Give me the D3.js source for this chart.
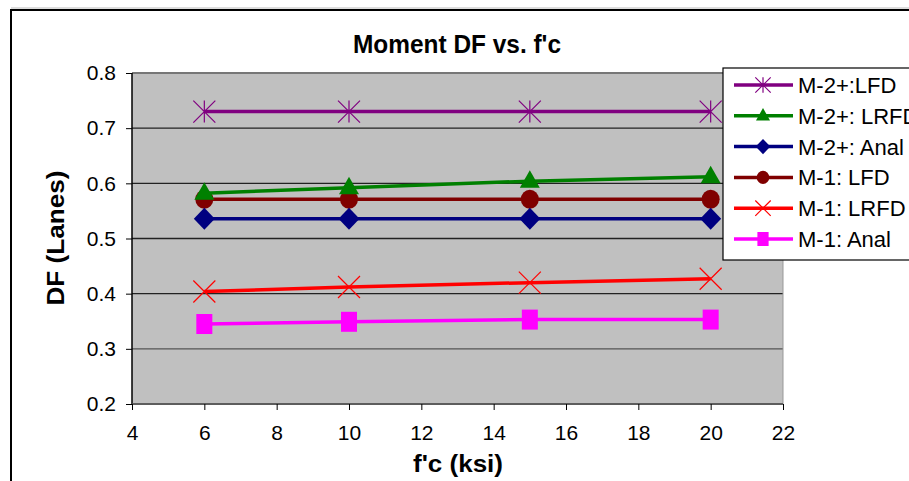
<!DOCTYPE html>
<html><head><meta charset="utf-8">
<script src="https://cdn.jsdelivr.net/npm/d3@7"></script>
<style>body{margin:0;background:#fff}svg{display:block}text{font-family:"Liberation Sans",Arial,sans-serif}</style>
</head><body>
<svg id="c" width="909" height="481"></svg>
<script>
const fc = [6, 10, 15, 20];
const seriesNames = ["M-2+:LFD", "M-2+: LRFD", "M-2+: Anal", "M-1: LFD", "M-1: LRFD", "M-1: Anal"];
const m2LFD  = [0.730, 0.730, 0.730, 0.730];
const m2LRFD = [0.582, 0.592, 0.604, 0.612];
const m2Anal = [0.536, 0.536, 0.536, 0.536];
const m1LFD  = [0.571, 0.571, 0.571, 0.571];
const m1LRFD = [0.404, 0.412, 0.420, 0.427];
const m1Anal = [0.345, 0.349, 0.353, 0.353];
const xTicks = [4, 6, 8, 10, 12, 14, 16, 18, 20, 22];
const yTicks = [0.2, 0.3, 0.4, 0.5, 0.6, 0.7, 0.8];

const series = [
  {name: seriesNames[0], vals: m2LFD,  color: "#800080", marker: "star"},
  {name: seriesNames[1], vals: m2LRFD, color: "#008000", marker: "tri"},
  {name: seriesNames[2], vals: m2Anal, color: "#000080", marker: "diamond"},
  {name: seriesNames[3], vals: m1LFD,  color: "#800000", marker: "circle"},
  {name: seriesNames[4], vals: m1LRFD, color: "#FF0000", marker: "x"},
  {name: seriesNames[5], vals: m1Anal, color: "#FF00FF", marker: "square"}
];

const svg = d3.select("#c");
const L = 132, R = 783, T = 73, B = 404;
const x = d3.scaleLinear().domain([4, 22]).range([L, R]);
const y = d3.scaleLinear().domain([0.2, 0.8]).range([B, T]);

// outer frame
svg.append("line").attr("x1", 11).attr("y1", 8).attr("x2", 909).attr("y2", 8).attr("stroke", "#bbb").attr("stroke-width", 1);
svg.append("path").attr("d", "M11,481V10H909").attr("fill", "none").attr("stroke", "#000").attr("stroke-width", 2);

// plot area
svg.append("rect").attr("x", L).attr("y", T).attr("width", R - L).attr("height", B - T).attr("fill", "#C0C0C0");
yTicks.forEach(v => {
  const edge = (v === 0.8 || v === 0.2);
  svg.append("line").attr("x1", L).attr("x2", R).attr("y1", y(v)).attr("y2", y(v))
    .attr("stroke", edge ? "#777" : (v === 0.3 ? "#555" : "#222")).attr("stroke-width", edge ? 2 : 1.3);
});
svg.append("line").attr("x1", R).attr("x2", R).attr("y1", T).attr("y2", B).attr("stroke", "#999").attr("stroke-width", 1);

// axes
const yAxis = d3.axisLeft(y).tickValues(yTicks).tickFormat(d3.format(".1f")).tickSize(6).tickPadding(10);
const gy = svg.append("g").attr("transform", `translate(${L},0)`).call(yAxis);
gy.select(".domain").attr("stroke", "#000").attr("stroke-width", 1.5).attr("d", `M0,${T}V${B + 1}`);
gy.selectAll("text").attr("font-size", 21).attr("fill", "#000").attr("font-family", "Liberation Sans, Arial, sans-serif");

const xAxis = d3.axisBottom(x).tickValues(xTicks).tickFormat(d3.format("d")).tickSize(6).tickPadding(15);
const gx = svg.append("g").attr("transform", `translate(0,${B})`).call(xAxis);
gx.select(".domain").attr("stroke", "#555").attr("stroke-width", 1.5).attr("d", `M${L},0H${R}`);
gx.selectAll("text").attr("font-size", 21).attr("fill", "#000").attr("font-family", "Liberation Sans, Arial, sans-serif");

// titles
svg.append("text").attr("x", 457).attr("y", 53).attr("text-anchor", "middle").attr("font-size", 26).attr("font-weight", "bold")
  .attr("textLength", 208).attr("lengthAdjust", "spacingAndGlyphs").text("Moment DF vs. f'c");
svg.append("text").attr("x", 458).attr("y", 472).attr("text-anchor", "middle").attr("font-size", 24).attr("font-weight", "bold")
  .attr("textLength", 90).attr("lengthAdjust", "spacingAndGlyphs").text("f'c (ksi)");
svg.append("text").attr("transform", "translate(64,238) rotate(-90)").attr("text-anchor", "middle").attr("font-size", 24).attr("font-weight", "bold")
  .attr("textLength", 135).attr("lengthAdjust", "spacingAndGlyphs").text("DF (Lanes)");

function drawMarker(g, type, color, cx, cy, s) {
  if (type === "star") {
    const h = 11 * s;
    g.append("path").attr("d", `M${cx - h},${cy - h}L${cx + h},${cy + h}M${cx - h},${cy + h}L${cx + h},${cy - h}M${cx},${cy - h}L${cx},${cy + h}`)
      .attr("stroke", color).attr("stroke-width", 1.2).attr("fill", "none");
  } else if (type === "x") {
    const h = 11 * s;
    g.append("path").attr("d", `M${cx - h},${cy - h}L${cx + h},${cy + h}M${cx - h},${cy + h}L${cx + h},${cy - h}`)
      .attr("stroke", color).attr("stroke-width", 1.2).attr("fill", "none");
  } else if (type === "tri") {
    const w = 10 * s, hh = 11 * s;
    g.append("path").attr("d", `M${cx},${cy - hh}L${cx + w},${cy + hh * 0.6}L${cx - w},${cy + hh * 0.6}Z`).attr("fill", color);
  } else if (type === "diamond") {
    const w = 10.5 * s, hh = 11 * s;
    g.append("path").attr("d", `M${cx},${cy - hh}L${cx + w},${cy}L${cx},${cy + hh}L${cx - w},${cy}Z`).attr("fill", color);
  } else if (type === "circle") {
    g.append("ellipse").attr("cx", cx).attr("cy", cy).attr("rx", 9 * s).attr("ry", 9.5 * s).attr("fill", color);
  } else if (type === "square") {
    const w = 8 * s, hh = 10 * s;
    g.append("rect").attr("x", cx - w).attr("y", cy - hh).attr("width", 2 * w).attr("height", 2 * hh).attr("fill", color);
  }
}

const line = d3.line().x((d, i) => x(fc[i])).y(d => y(d));
const plot = svg.append("g");
// draw in reverse order so the first series is on top
series.slice().reverse().forEach(s => {
  plot.append("path").attr("d", line(s.vals)).attr("fill", "none").attr("stroke", s.color).attr("stroke-width", 3.5);
  s.vals.forEach((v, i) => drawMarker(plot, s.marker, s.color, x(fc[i]), y(v), 1));
});

// legend
const lg = svg.append("g");
lg.append("rect").attr("x", 723).attr("y", 68).attr("width", 200).attr("height", 192).attr("fill", "#fff").attr("stroke", "#000").attr("stroke-width", 1.2);
const legY = d3.scalePoint().domain(seriesNames).range([85, 239]);
series.forEach(s => {
  const cy = legY(s.name);
  lg.append("line").attr("x1", 734).attr("x2", 793).attr("y1", cy).attr("y2", cy).attr("stroke", s.color).attr("stroke-width", 3.5);
  drawMarker(lg, s.marker, s.color, 763, cy, 0.7);
  lg.append("text").attr("x", 798).attr("y", cy + 8).attr("font-size", 22).attr("fill", "#000").text(s.name);
});
</script>
</body></html>
